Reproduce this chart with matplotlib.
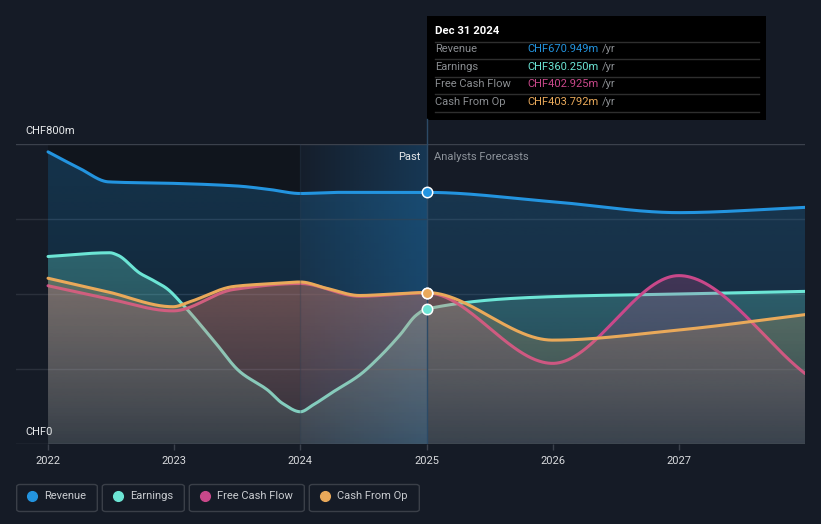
import numpy as np
import matplotlib
matplotlib.use("Agg")
import matplotlib.pyplot as plt
from matplotlib.patches import PathPatch, FancyBboxPatch, Rectangle
from matplotlib.colors import to_rgb
from matplotlib.lines import Line2D

plt.rcParams['font.family'] = ['Roboto', 'DejaVu Sans']

# ---------------- data ----------------
rev_years = [2022.0, 2022.25, 2022.48, 2023.0, 2023.5, 2023.75, 2024.0, 2024.3, 2025.0,
             2026.0, 2027.0, 2028.0]
revenue = [779, 735, 699, 695, 688, 679, 668, 671, 671, 646, 617, 631]

earn_years = [2022.0, 2022.49, 2022.55, 2022.73, 2022.83, 2022.94, 2023.07, 2023.31, 2023.52,
              2023.74, 2023.86, 2024.0, 2024.1, 2024.26, 2024.47, 2024.63, 2024.79, 2024.92,
              2025.0, 2026.0, 2027.0, 2028.0]
earnings = [500, 510, 504, 455, 437, 415, 371, 277, 193, 144, 108, 86, 104, 139, 184, 233,
            291, 344, 360, 393, 400, 407]

fcf_years = [2022.0, 2022.47, 2022.99, 2023.47, 2024.0, 2024.47, 2025.0, 2026.0, 2027.0,
             2028.0]
fcf = [422, 388, 355, 412, 428, 394, 403, 215, 449, 188]

cfo_years = [2022.0, 2022.47, 2022.99, 2023.13, 2023.47, 2023.79, 2024.0, 2024.21, 2024.47,
             2024.73, 2025.0, 2026.0, 2027.0, 2028.0]
cfo = [442, 406, 366, 380, 420, 428, 432, 415, 396, 400, 404, 277, 304, 345]

tick_years = [2022, 2023, 2024, 2025, 2026, 2027]
tick_labels = ['2022', '2023', '2024', '2025', '2026', '2027']

tooltip_title = 'Dec 31 2024'
tooltip_names = ['Revenue', 'Earnings', 'Free Cash Flow', 'Cash From Op']
tooltip_values = ['CHF670.949m', 'CHF360.250m', 'CHF402.925m', 'CHF403.792m']
present_values = [670.949, 360.250, 402.925, 403.792]

C_REV = '#2394df'
C_EARN = '#6ce5d5'
C_FCF = '#c9488a'
C_CFO = '#e9a95a'
BG = '#151b26'

# ---------------- helpers ----------------
def smooth(xs, ys, n=800):
    """Monotone cubic (Fritsch-Carlson) rendering of the series."""
    x = np.asarray(xs, float); y = np.asarray(ys, float)
    h = np.diff(x); d = np.diff(y) / h
    m = np.zeros_like(y)
    m[0] = d[0]; m[-1] = d[-1]
    for i in range(1, len(x) - 1):
        if d[i - 1] * d[i] <= 0:
            m[i] = 0
        else:
            w1 = 2 * h[i] + h[i - 1]; w2 = h[i] + 2 * h[i - 1]
            m[i] = (w1 + w2) / (w1 / d[i - 1] + w2 / d[i])
    xx = np.linspace(x[0], x[-1], n)
    idx = np.clip(np.searchsorted(x, xx) - 1, 0, len(x) - 2)
    t = (xx - x[idx]) / h[idx]
    h00 = 2 * t**3 - 3 * t**2 + 1; h10 = t**3 - 2 * t**2 + t
    h01 = -2 * t**3 + 3 * t**2; h11 = t**3 - t**2
    yy = h00 * y[idx] + h10 * h[idx] * m[idx] + h01 * y[idx + 1] + h11 * h[idx] * m[idx + 1]
    return xx, yy


def grad_fill(ax, x, y, color, a_top, a_bot, z):
    verts = np.concatenate([np.column_stack([x, y]),
                            [[x[-1], 0], [x[0], 0]]])
    patch = PathPatch(matplotlib.path.Path(verts), transform=ax.transData,
                      facecolor='none', edgecolor='none')
    ax.add_patch(patch)
    img = np.zeros((256, 1, 4))
    img[..., :3] = to_rgb(color)
    img[:, 0, 3] = np.linspace(a_bot, a_top, 256)
    im = ax.imshow(img, extent=[x[0], x[-1], 0, max(y)], origin='lower',
                   aspect='auto', zorder=z, interpolation='bilinear')
    im.set_clip_path(patch)


# ---------------- figure ----------------
W, H = 821, 524
fig = plt.figure(figsize=(W / 100, H / 100), dpi=100, facecolor=BG)
ax = fig.add_axes([16 / W, 80 / H, (805 - 16) / W, 300 / H])
ax.set_facecolor(BG)
XMIN, XMAX = 2021.746, 2028.0

# past shading
ax.add_patch(Rectangle((2022, 0), 2, 800, facecolor='#0b0e13', alpha=0.45, lw=0, zorder=0))
g = np.zeros((1, 256, 4))
g[..., :3] = to_rgb('#1b6fae')
g[0, :, 3] = np.linspace(0.04, 0.34, 256)
ax.imshow(g, extent=[2024, 2025, 0, 800], origin='lower', aspect='auto', zorder=0.5,
          interpolation='bilinear')

# gridlines
for v in [0, 200, 400, 600, 800]:
    ax.axhline(v, color='#3b414c' if v in (0, 800) else '#2a303b', lw=1, zorder=0.6)

series = [
    (rev_years, revenue, C_REV, 0.24, 0.10, 1),
    (earn_years, earnings, C_EARN, 0.30, 0.10, 3),
    (fcf_years, fcf, C_FCF, 0.24, 0.08, 5),
    (cfo_years, cfo, C_CFO, 0.26, 0.08, 7),
]
for xs, ys, col, at, ab, z in series:
    sx, sy = smooth(xs, ys)
    grad_fill(ax, sx, sy, col, at, ab, z)
    ax.plot(sx, sy, color=col, lw=2.2, zorder=z + 1, solid_capstyle='round')

# 2024 / present lines
ax.axvline(2024, color='#2a3a4c', lw=1, alpha=0.3, zorder=9)
ax.axvline(2025, color='#2c4a66', lw=1, zorder=9)

# markers at present
for v, col in [(present_values[0], C_REV), (present_values[2], C_FCF),
               (present_values[3], C_CFO), (present_values[1], C_EARN)]:
    ax.plot([2025], [v], 'o', ms=7.5, mfc=col, mec='white', mew=1.1, zorder=20)

ax.set_xlim(XMIN, XMAX)
ax.set_ylim(0, 800)
for s in ax.spines.values():
    s.set_visible(False)
ax.set_yticks([])
ax.set_xticks(tick_years)
ax.set_xticklabels(tick_labels, color='#d8dadd', fontsize=8)
ax.tick_params(axis='x', length=4, width=1, color='#3b414c', pad=5)

ax.text(2024.95, 765, 'Past', color='#e6e8ea', fontsize=8, ha='right', va='center', zorder=30)
ax.text(2025.06, 765, 'Analysts Forecasts', color='#8d939b', fontsize=8, ha='left',
        va='center', zorder=30)

# y labels
fig.text(25 / W, 1 - 131 / H, 'CHF800m', color='#e6e8ea', fontsize=8, va='center')
fig.text(25 / W, 1 - 432 / H, 'CHF0', color='#e6e8ea', fontsize=8, va='center')

# vertical line above axes to tooltip
fig.add_artist(Line2D([427 / W, 427 / W], [1 - 144 / H, 1 - 119 / H], color='#2c4a66',
                      lw=1))

# tooltip
fig.add_artist(Rectangle((427 / W, 1 - 120 / H), (766 - 427) / W, (120 - 16) / H,
                         facecolor='#000000', edgecolor='none', transform=fig.transFigure))
fig.text(435 / W, 1 - 31 / H, tooltip_title, color='white', fontsize=8.2, fontweight='bold',
         va='center')
for yy in [41.5, 58.5, 76.5, 94, 111.5]:
    fig.add_artist(Line2D([435 / W, 759 / W], [1 - yy / H, 1 - yy / H], color='#2e2e2e',
                          lw=1))
tcolors = [C_REV, C_EARN, C_FCF, C_CFO]
fig.canvas.draw()
for i, (nm, val, col) in enumerate(zip(tooltip_names, tooltip_values, tcolors)):
    yc = 1 - (49.5 + i * 17.4) / H
    fig.text(435 / W, yc, nm, color='#8a8d91', fontsize=8, va='center')
    t = fig.text(527 / W, yc, val, color=col, fontsize=8, va='center')
    bb = t.get_window_extent(renderer=fig.canvas.get_renderer())
    fig.text((bb.x1 + 4) / W, yc, '/yr', color='#8a8d91', fontsize=8, va='center')

# legend
legend_items = [('Revenue', C_REV, 16.7, 97.3), ('Earnings', C_EARN, 102.3, 184.3),
                ('Free Cash Flow', C_FCF, 189.3, 304.3), ('Cash From Op', C_CFO, 309.3, 419.3)]
for name, col, x0, x1 in legend_items:
    fig.add_artist(FancyBboxPatch((x0 / W, 1 - 511.5 / H), (x1 - x0) / W, 27 / H,
                                  boxstyle='round,pad=0,rounding_size=0.004',
                                  facecolor='none', edgecolor='#3a3f48', lw=1,
                                  transform=fig.transFigure))
    fig.add_artist(Line2D([(x0 + 15.5) / W], [1 - 496 / H], marker='o', ms=7, color=col,
                          mec=col, lw=0))
    fig.text((x0 + 27.5) / W, 1 - 496 / H, name, color='#c9ccd0', fontsize=8, va='center')

fig.savefig('out.png', dpi=100, facecolor=BG)
